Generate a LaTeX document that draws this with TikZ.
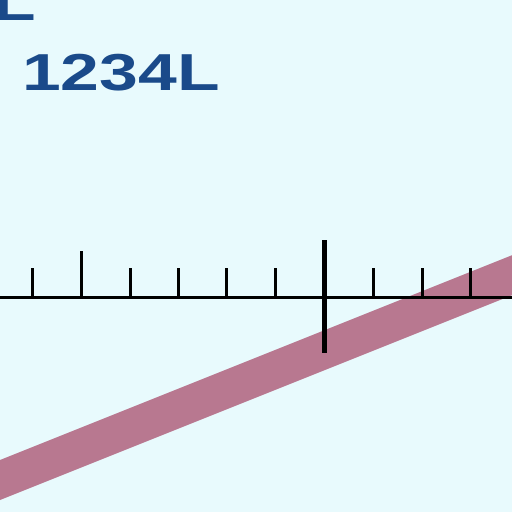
\documentclass[tikz,border=0pt]{standalone}
\usepackage{fontspec}
\setmainfont{Liberation Sans}
\definecolor{bg}{HTML}{E8FAFD}
\definecolor{txtblue}{HTML}{1A4A8A}
\definecolor{band}{HTML}{B87890}
\begin{document}
\begin{tikzpicture}[x=1pt,y=-1pt,
  tick/.style={line width=3pt,black},
  lbl/.style={inner sep=0pt,text=txtblue,font=\bfseries\fontsize{52}{52}\selectfont}]
\useasboundingbox (0,0) rectangle (512,512);
\clip (0,0) rectangle (512,512);
\fill[bg] (0,0) rectangle (512,512);
% pink band
\fill[band] (-5,462) -- (520,252) -- (520,292) -- (-5,502) -- cycle;
% text
\node[lbl,anchor=base west] (top) at (-7,20) {\scalebox{1.34}[1]{L}};
\node[lbl,anchor=base west] (num) at (22,90) {\scalebox{1.34}[1]{1234L}};
% axis
\coordinate (a0) at (0,297);
\coordinate (a1) at (512,297);
\draw[line width=3pt] (a0) -- (a1);
\foreach \x in {32,130,178,226,275,373,422,470} {
  \draw[tick] (\x,268) -- (\x,297);
}
\draw[tick] (81,251) -- (81,297);
\draw[line width=5pt] (324,240) -- (324,353);
\end{tikzpicture}
\end{document}
